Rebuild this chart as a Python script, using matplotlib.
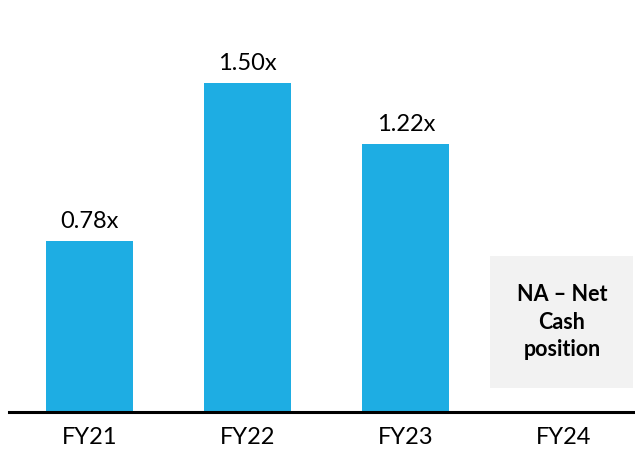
import matplotlib
matplotlib.use("Agg")
import matplotlib.pyplot as plt
from matplotlib.patches import Rectangle

categories = ["FY21", "FY22", "FY23", "FY24"]
values = [0.78, 1.50, 1.22, None]
value_labels = ["0.78x", "1.50x", "1.22x", ""]
na_note = "NA – Net\nCash\nposition"

plt.rcParams['font.family'] = ['Lato', 'DejaVu Sans']

fig = plt.figure(figsize=(6.35, 4.51), dpi=100)
ax = fig.add_axes([9/635, 39/451, 626/635, 412/451])

xs = list(range(len(categories)))
bar_x = [x for x, v in zip(xs, values) if v is not None]
bar_v = [v for v in values if v is not None]
ax.bar(bar_x, bar_v, width=0.55, color="#1EADE3")

for x, v, lab in zip(xs, values, value_labels):
    if v is not None:
        ax.text(x, v + 0.04, lab, ha="center", va="bottom", fontsize=17, color="#000000")

ax.set_xlim(-0.51, 3.45)
ax.set_ylim(0, 1.877)

# NA box for FY24
ax.add_patch(Rectangle((2.535, 0.109), 0.905, 0.602, facecolor="#F2F2F2", edgecolor="none", zorder=1))
ax.text(2.9875, 0.41, na_note, ha="center", va="center", fontsize=15.5,
        fontweight="bold", color="#000000", linespacing=1.4, zorder=2)

ax.set_xticks(xs)
ax.set_xticklabels(categories, fontsize=17)
ax.tick_params(axis="x", length=0, pad=11)
ax.set_yticks([])
for s in ["top", "right", "left"]:
    ax.spines[s].set_visible(False)
ax.spines["bottom"].set_linewidth(2.2)
ax.spines["bottom"].set_color("#000000")

fig.savefig("out.png", dpi=100)
